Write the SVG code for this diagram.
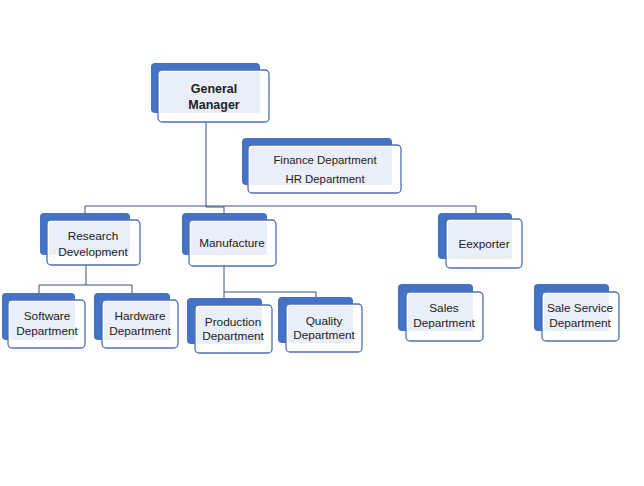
<svg xmlns="http://www.w3.org/2000/svg" width="644" height="486" viewBox="0 0 644 486">
<style>
.back{fill:#4472c4;}
.front{fill:#ffffff;stroke:#4f6fb3;stroke-width:1.3;}
.inner{fill:#e9eef8;}
.t{font-family:"Liberation Sans",Arial,sans-serif;font-size:11.8px;fill:#222;text-anchor:middle;}
.f{font-size:11.4px;}
.b{font-size:12.5px;font-weight:bold;}
.c{fill:none;stroke:#3a5278;stroke-width:1;}
</style>
<rect width="644" height="486" fill="#ffffff"/>
<g id="connectors">
<path class="c" d="M206,122 V206"/>
<path class="c" d="M85,206 H476 V213"/>
<path class="c" d="M85,206 V213"/>
<path class="c" d="M206,206 V207 H224 V214"/>
<path class="c" d="M86,265 V285"/>
<path class="c" d="M39,293 V285 H132 V293"/>
<path class="c" d="M224,266 V298"/>
<path class="c" d="M224,292 H316 V298"/>
</g>
<g id="general-manager">
<rect class="back" x="151" y="63" width="109" height="50" rx="4"/>
<rect class="front" x="158" y="70" width="111" height="52" rx="4"/>
<rect class="inner" x="160" y="72" width="100" height="41" rx="2"/>
<text class="t b" x="214" y="93">General</text>
<text class="t b" x="214" y="109">Manager</text>
</g>
<g id="finance-hr">
<rect class="back" x="242" y="138" width="150" height="47" rx="4"/>
<rect class="front" x="248" y="145" width="153" height="48" rx="4"/>
<rect class="inner" x="250" y="147" width="142" height="38" rx="2"/>
<text class="t f" x="325" y="164">Finance Department</text>
<text class="t f" x="325" y="183">HR Department</text>
</g>
<g id="research-development">
<rect class="back" x="40" y="213" width="90" height="42" rx="4"/>
<rect class="front" x="47" y="220" width="93" height="45" rx="4"/>
<rect class="inner" x="49" y="222" width="81" height="33" rx="2"/>
<text class="t" x="93" y="240">Research</text>
<text class="t" x="93" y="256">Development</text>
</g>
<g id="manufacture">
<rect class="back" x="182" y="213" width="85" height="42" rx="4"/>
<rect class="front" x="189" y="220" width="87" height="46" rx="4"/>
<rect class="inner" x="191" y="222" width="76" height="33" rx="2"/>
<text class="t" x="232" y="247">Manufacture</text>
</g>
<g id="eexporter">
<rect class="back" x="438" y="213" width="74" height="46" rx="4"/>
<rect class="front" x="446" y="219" width="76" height="49" rx="4"/>
<rect class="inner" x="448" y="221" width="64" height="38" rx="2"/>
<text class="t" x="484" y="248">Eexporter</text>
</g>
<g id="software">
<rect class="back" x="2" y="293" width="73" height="47" rx="4"/>
<rect class="front" x="8" y="300" width="77" height="48" rx="4"/>
<rect class="inner" x="10" y="302" width="65" height="38" rx="2"/>
<text class="t" x="47" y="320">Software</text>
<text class="t" x="47" y="335">Department</text>
</g>
<g id="hardware">
<rect class="back" x="94" y="293" width="76" height="47" rx="4"/>
<rect class="front" x="102" y="300" width="76" height="48" rx="4"/>
<rect class="inner" x="104" y="302" width="66" height="38" rx="2"/>
<text class="t" x="140" y="320">Hardware</text>
<text class="t" x="140" y="335">Department</text>
</g>
<g id="production">
<rect class="back" x="187" y="298" width="75" height="46" rx="4"/>
<rect class="front" x="195" y="305" width="77" height="48" rx="4"/>
<rect class="inner" x="197" y="307" width="65" height="37" rx="2"/>
<text class="t" x="233" y="326">Production</text>
<text class="t" x="233" y="340">Department</text>
</g>
<g id="quality">
<rect class="back" x="278" y="297" width="75" height="46" rx="4"/>
<rect class="front" x="286" y="304" width="76" height="48" rx="4"/>
<rect class="inner" x="288" y="306" width="65" height="37" rx="2"/>
<text class="t" x="324" y="325">Quality</text>
<text class="t" x="324" y="339">Department</text>
</g>
<g id="sales">
<rect class="back" x="398" y="284" width="75" height="47" rx="4"/>
<rect class="front" x="406" y="292" width="77" height="49" rx="4"/>
<rect class="inner" x="408" y="294" width="65" height="37" rx="2"/>
<text class="t" x="444" y="312">Sales</text>
<text class="t" x="444" y="327">Department</text>
</g>
<g id="sale-service">
<rect class="back" x="534" y="284" width="75" height="47" rx="4"/>
<rect class="front" x="542" y="292" width="77" height="49" rx="4"/>
<rect class="inner" x="544" y="294" width="65" height="37" rx="2"/>
<text class="t" x="580" y="312">Sale Service</text>
<text class="t" x="580" y="327">Department</text>
</g>
</svg>
